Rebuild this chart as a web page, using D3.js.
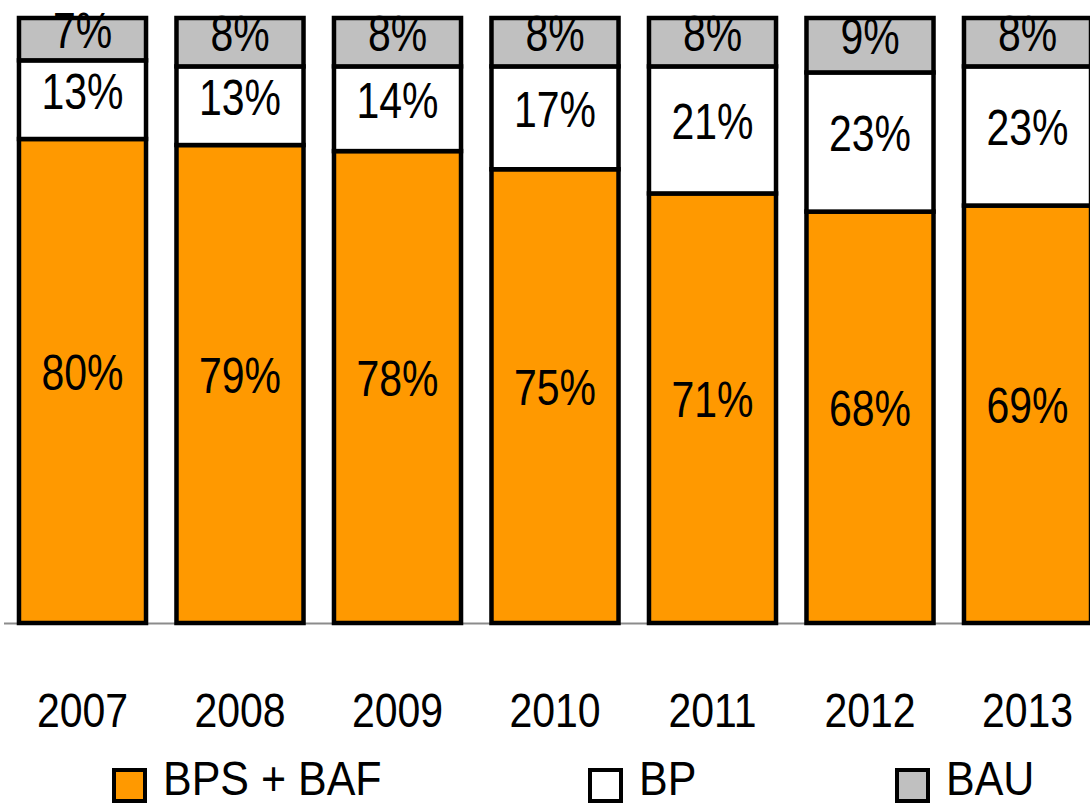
<!DOCTYPE html>
<html>
<head>
<meta charset="utf-8">
<script src="https://cdn.jsdelivr.net/npm/d3@7"></script>
<style>
  body { margin: 0; background: #fff; overflow: hidden; }
  text { font-family: "Liberation Sans", Arial, sans-serif; fill: #000; }
</style>
</head>
<body>
<div id="chartHolder"></div>
<script>
const years = ["2007", "2008", "2009", "2010", "2011", "2012", "2013"];
const bpsBaf = [80, 79, 78, 75, 71, 68, 69];
const bp = [13, 13, 14, 17, 21, 23, 23];
const bau = [7, 8, 8, 8, 8, 9, 8];
const seriesNames = ["BPS + BAF", "BP", "BAU"];

const width = 1090;
const height = 805;
const colors = ["#FF9900", "#FFFFFF", "#C0C0C0"];

const svg = d3.select("#chartHolder")
  .append("svg")
  .attr("width", width)
  .attr("height", height);

// table for the stack
const rows = years.map((y, i) => ({year: y, "BPS + BAF": bpsBaf[i], "BP": bp[i], "BAU": bau[i]}));
const stacked = d3.stack().keys(seriesNames)(rows);

const xScale = d3.scaleBand()
  .domain(years)
  .range([3.75, 1106.25])
  .paddingInner(0.168)
  .paddingOuter(0.084);

const yScale = d3.scaleLinear()
  .domain([0, 100])
  .range([623, 18]);

// labels get cut at the top of the plot area
svg.append("clipPath").attr("id", "plotClip")
  .append("rect").attr("x", 0).attr("y", 11).attr("width", width).attr("height", height);

// baseline
svg.append("line")
  .attr("x1", 4).attr("x2", width)
  .attr("y1", yScale(0) + 0.5).attr("y2", yScale(0) + 0.5)
  .attr("stroke", "#8c8c8c")
  .attr("stroke-width", 2);

const groups = svg.selectAll(".series")
  .data(stacked)
  .enter()
  .append("g")
  .attr("class", "series")
  .attr("fill", (d, i) => colors[i]);

groups.selectAll("rect")
  .data(d => d)
  .enter()
  .append("rect")
  .attr("x", d => xScale(d.data.year) + 2)
  .attr("width", xScale.bandwidth() - 4)
  .attr("y", d => yScale(d[1]))
  .attr("height", d => yScale(d[0]) - yScale(d[1]))
  .attr("stroke", "#000")
  .attr("stroke-width", 4.5);

// value labels
const labels = svg.append("g").attr("clip-path", "url(#plotClip)");
stacked.forEach(s => {
  s.forEach(d => {
    const cx = xScale(d.data.year) + xScale.bandwidth() / 2;
    const cy = (yScale(d[0]) + yScale(d[1])) / 2 + 9;
    labels.append("text")
      .attr("transform", `translate(${cx},${cy}) scale(1,1.2)`)
      .attr("text-anchor", "middle")
      .style("font-size", "41px")
      .text((d[1] - d[0]) + "%");
  });
});

// x axis labels
const xAxis = d3.axisBottom(xScale).tickSize(0).tickPadding(0);
const xg = svg.append("g")
  .attr("transform", "translate(0,727)")
  .call(xAxis);
xg.select(".domain").remove();
xg.selectAll(".tick text")
  .attr("dy", 0)
  .attr("y", 0)
  .attr("transform", "scale(1,1.15)")
  .style("font-size", "41px");

// legend
const legendX = [114, 590, 897];
const legend = svg.selectAll(".legend")
  .data(seriesNames)
  .enter()
  .append("g")
  .attr("class", "legend")
  .attr("transform", (d, i) => `translate(${legendX[i]},770)`);
legend.append("rect")
  .attr("width", 31).attr("height", 31)
  .attr("fill", (d, i) => colors[i])
  .attr("stroke", "#000")
  .attr("stroke-width", 4);
legend.append("text")
  .attr("transform", "translate(49,25) scale(1,1.1)")
  .style("font-size", "43px")
  .text(d => d);
</script>
</body>
</html>
